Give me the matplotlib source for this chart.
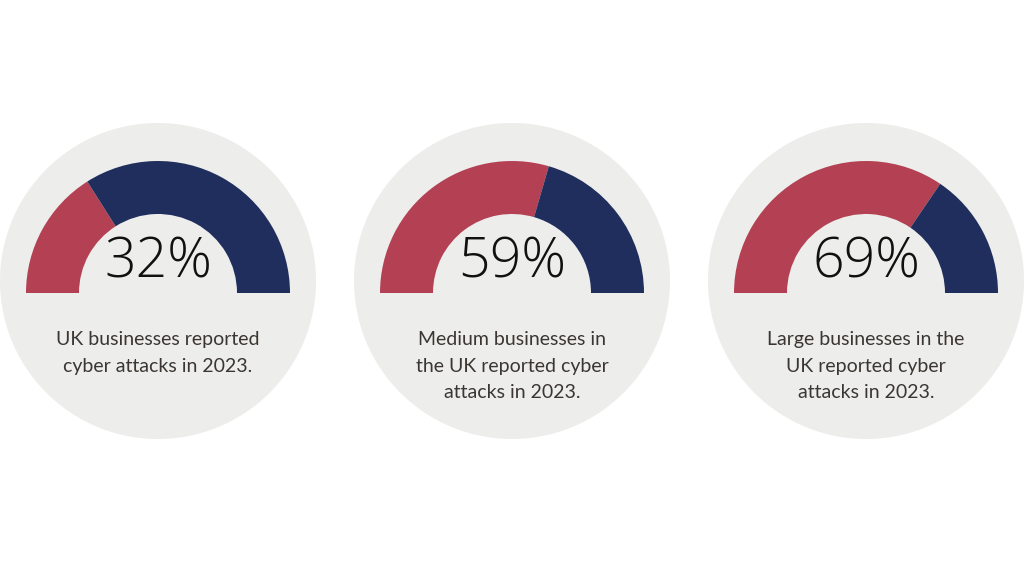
import matplotlib.pyplot as plt
from matplotlib.patches import Circle, Wedge

# Data
percents = [32, 59, 69]
captions = [
    "UK businesses reported\ncyber attacks in 2023.",
    "Medium businesses in\nthe UK reported cyber\nattacks in 2023.",
    "Large businesses in the\nUK reported cyber\nattacks in 2023.",
]

RED = "#b34153"
NAVY = "#1f2e5c"
GREY = "#ededeb"
TEXT = "#3b3631"

W, H = 1024, 576
centers_x = [158, 512, 866]

fig = plt.figure(figsize=(W / 100, H / 100), dpi=100)
ax = fig.add_axes([0, 0, 1, 1])
ax.set_xlim(0, W)
ax.set_ylim(0, H)
ax.set_aspect("equal")
ax.axis("off")

for cx, pct, cap in zip(centers_x, percents, captions):
    # grey background disc
    ax.add_patch(Circle((cx, H - 281), 158, color=GREY, lw=0))

    # gauge: red part from the left, navy the rest
    base_y = H - 293
    split = 180 - 180 * pct / 100
    ax.add_patch(Wedge((cx, base_y), 132, split, 180, width=53, color=RED, lw=0))
    ax.add_patch(Wedge((cx, base_y), 132, 0, split, width=53, color=NAVY, lw=0))

    ax.text(cx, H - 263, f"{pct}%", ha="center", va="center",
            fontsize=40, fontfamily="Open Sans", fontweight="light", color="#111111")
    ax.text(cx, H - 331, cap, ha="center", va="top", fontsize=14,
            fontfamily="Lato", color=TEXT, linespacing=1.68)

fig.savefig("out.png", dpi=100, facecolor="white")
